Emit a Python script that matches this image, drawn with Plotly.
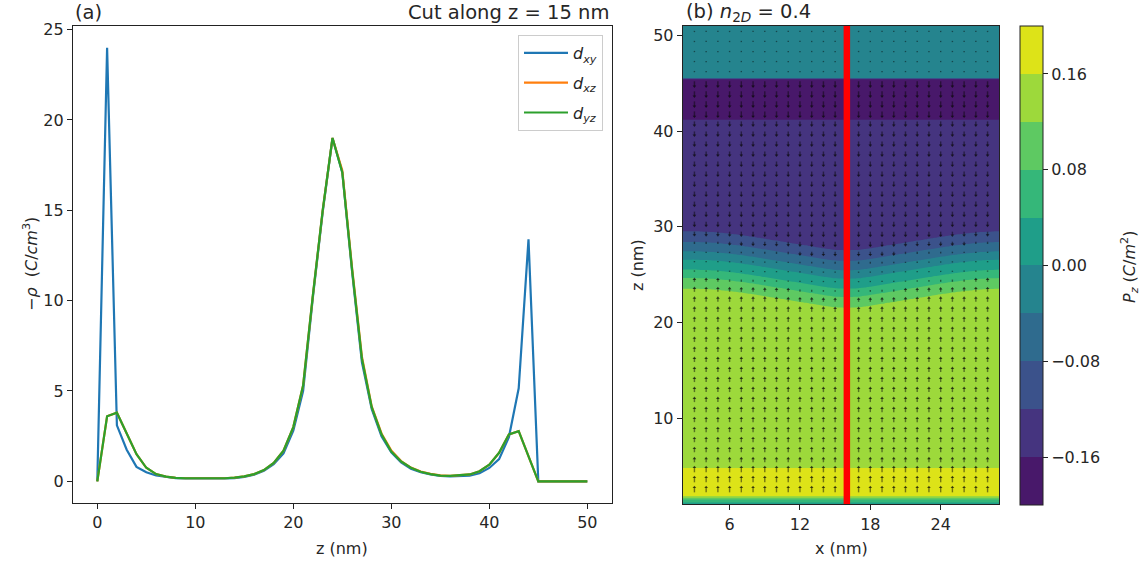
import numpy as np
import plotly.graph_objects as go

# ---------------- Panel (a): -rho along z (cut at z = 15 nm) ----------------
z_nm = list(range(0, 51))
rho_dxy = [0.0, 24.0, 3.1, 1.75, 0.8, 0.5, 0.32, 0.24, 0.18, 0.16,
           0.15, 0.15, 0.15, 0.16, 0.18, 0.24, 0.36, 0.58, 0.95, 1.55,
           2.8, 5.0, 10.2, 14.9, 19.0, 17.1, 11.6, 6.6, 4.0, 2.5,
           1.6, 1.05, 0.7, 0.5, 0.38, 0.3, 0.27, 0.28, 0.31, 0.45,
           0.74, 1.23, 2.45, 5.15, 13.4, 0.0, 0.0, 0.0, 0.0, 0.0, 0.0]
rho_dxz = [0.0, 3.6, 3.8, 2.6, 1.5, 0.75, 0.4, 0.26, 0.19, 0.17,
           0.16, 0.16, 0.16, 0.17, 0.2, 0.27, 0.4, 0.62, 1.02, 1.7,
           3.0, 5.3, 10.3, 15.0, 19.0, 17.2, 11.8, 6.9, 4.15, 2.65,
           1.7, 1.12, 0.76, 0.54, 0.41, 0.33, 0.3, 0.32, 0.38, 0.56,
           0.92, 1.58, 2.6, 2.78, 1.38, 0.0, 0.0, 0.0, 0.0, 0.0, 0.0]
rho_dyz = [0.0, 3.6, 3.8, 2.6, 1.5, 0.75, 0.4, 0.26, 0.19, 0.17,
           0.16, 0.16, 0.16, 0.17, 0.2, 0.27, 0.4, 0.62, 1.02, 1.7,
           3.0, 5.3, 10.3, 15.0, 19.0, 17.1, 11.7, 6.8, 4.1, 2.6,
           1.65, 1.1, 0.75, 0.53, 0.4, 0.32, 0.3, 0.32, 0.38, 0.56,
           0.92, 1.58, 2.6, 2.78, 1.38, 0.0, 0.0, 0.0, 0.0, 0.0, 0.0]
a_xticks = [0, 10, 20, 30, 40, 50]
a_yticks = [0, 5, 10, 15, 20, 25]

# ---------------- Panel (b): P_z map (n2D = 0.4) ----------------
# P_z profile along z read at the panel edges
pz_prof_z = [1.0, 1.45, 1.9, 2.0, 4.7, 4.9, 22.9, 23.54, 24.66, 25.53, 26.58,
             27.45, 28.43, 29.54, 30.3, 41.1, 41.3, 45.4, 45.6, 51.0]
pz_prof_v = [0.02, 0.07, 0.17, 0.18, 0.18, 0.14, 0.14, 0.12, 0.08, 0.04, 0.0,
             -0.04, -0.08, -0.12, -0.14, -0.14, -0.18, -0.18, -0.02, -0.02]
# downward shift of the domain-wall region versus x
dip_x = [2, 3, 4, 5, 6, 7, 8, 9, 10, 11, 12, 13, 14, 15, 16,
         17, 18, 19, 20, 21, 22, 23, 24, 25, 26, 27, 28, 29]
dip_nm = [0, 0, 0.05, 0.12, 0.25, 0.4, 0.58, 0.78, 0.98, 1.18, 1.38, 1.58, 1.78, 1.95, 2.0,
          1.95, 1.78, 1.58, 1.38, 1.18, 0.98, 0.78, 0.58, 0.4, 0.25, 0.12, 0.05, 0]
cut_x = 16
b_xticks = [6, 12, 18, 24]
b_yticks = [10, 20, 30, 40, 50]
cbar_ticks = [-0.16, -0.08, 0.0, 0.08, 0.16]
cbar_text = ["\u22120.16", "\u22120.08", "0.00", "0.08", "0.16"]
cbar_range = [-0.2, 0.2]
band_colors = ["#48186a", "#45347f", "#3b528b", "#2f6b8e", "#25848e",
               "#1f9e89", "#35b779", "#5ec962", "#9dd93b", "#dde318"]

FONT = "DejaVu Sans"
TXT = "#262626"
W, H = 1142, 562


def field(xv, zv):
    d = np.interp(xv, dip_x, dip_nm)
    zz = np.where((zv > 15) & (zv < 35), zv + d, zv)
    return np.interp(zz, pz_prof_z, pz_prof_v)


xc = np.arange(2.0, 29.001, 0.25)
zc = np.arange(1.0, 51.0001, 0.1)
XX, ZZ = np.meshgrid(xc, zc)
PZ = field(XX, ZZ)

# quiver grid
qx = np.arange(3, 29, 1.0)
qz = 2.25 + 1.048 * np.arange(47)
QX, QZ = np.meshgrid(qx, qz)
QP = field(QX, QZ)
px_per_nm = 9.55
alen = np.abs(QP) * 28.0           # arrow length in px
sgn = np.sign(QP)
qy_center = QZ + sgn * alen / 2 / px_per_nm
qy_tip = QZ + sgn * alen / px_per_nm
big = alen.ravel() > 2.5

fig = go.Figure()

# --- panel (a) lines ---
fig.add_trace(go.Scatter(x=z_nm, y=rho_dxy, mode="lines", name="<i>d<sub>xy</sub></i>",
                         line=dict(color="#1f77b4", width=2.2), legendgroup="a",
                         xaxis="x", yaxis="y"))
fig.add_trace(go.Scatter(x=z_nm, y=rho_dxz, mode="lines", name="<i>d<sub>xz</sub></i>",
                         line=dict(color="#ff7f0e", width=2.2), legendgroup="b",
                         xaxis="x", yaxis="y"))
fig.add_trace(go.Scatter(x=z_nm, y=rho_dyz, mode="lines", name="<i>d<sub>yz</sub></i>",
                         line=dict(color="#2ca02c", width=2.2), legendgroup="c",
                         xaxis="x", yaxis="y"))

# --- panel (b) contour ---
n = len(band_colors)
cscale = [[i / (n - 1), c] for i, c in enumerate(band_colors)]
fig.add_trace(go.Contour(
    x=xc, y=zc, z=PZ, xaxis="x2", yaxis="y2",
    colorscale=cscale, showlegend=False, hoverinfo="skip", showscale=False,
    contours=dict(start=-0.16, end=0.16, size=0.04, coloring="fill", showlines=False),
    line=dict(width=0),
))

# quiver arrows (shafts + small heads)
fig.add_trace(go.Scatter(
    x=QX.ravel(), y=qy_center.ravel(), mode="markers", xaxis="x2", yaxis="y2",
    showlegend=False, hoverinfo="skip",
    marker=dict(symbol="line-ns", size=np.maximum(alen.ravel() / 1.4, 0.9),
                line=dict(color="rgba(10,10,10,0.7)", width=1.4)),
))
fig.add_trace(go.Scatter(
    x=QX.ravel()[big], y=qy_tip.ravel()[big], mode="markers", xaxis="x2", yaxis="y2",
    showlegend=False, hoverinfo="skip",
    marker=dict(symbol=np.where(sgn.ravel()[big] > 0, "triangle-up", "triangle-down"),
                size=3.2, color="rgba(10,10,10,0.7)", line=dict(width=0)),
))

# red cut line
fig.add_trace(go.Scatter(x=[cut_x, cut_x], y=[1, 51], mode="lines", xaxis="x2", yaxis="y2",
                         showlegend=False, hoverinfo="skip",
                         line=dict(color="#ff0000", width=6.5)))

# discrete colour bar (10 equal bands from -0.2 to 0.2)
step_scale = []
for i, c in enumerate(band_colors):
    step_scale.append([i / n, c])
    step_scale.append([(i + 1) / n, c])
fig.add_trace(go.Scatter(
    x=[cut_x], y=[30], mode="markers", xaxis="x2", yaxis="y2", showlegend=False,
    hoverinfo="skip",
    marker=dict(size=1, opacity=0, color=[0.0], colorscale=step_scale,
                cmin=cbar_range[0], cmax=cbar_range[1], showscale=True,
                colorbar=dict(x=1020 / W, xanchor="left", xpad=0, ypad=0, thickness=23,
                              lenmode="fraction", len=(505 - 26) / H, y=1 - 26 / H,
                              yanchor="top", outlinecolor="#222222", outlinewidth=1,
                              tickmode="array", tickvals=cbar_ticks, ticktext=cbar_text,
                              ticks="outside", ticklen=5, tickcolor="#222222",
                              tickfont=dict(family=FONT, size=16, color=TXT))),
))

axis_common = dict(showgrid=False, zeroline=False, showline=True, mirror=True,
                   linecolor="#222222", linewidth=1, ticks="outside", ticklen=5,
                   tickwidth=1, tickcolor="#222222", automargin=False,
                   tickfont=dict(family=FONT, size=16, color=TXT))


def ann(text, x, y, size=16, xanchor="center", angle=0):
    return dict(text=text, x=x / W, y=1 - y / H, xref="paper", yref="paper",
                xanchor=xanchor, yanchor="middle", showarrow=False, textangle=angle,
                font=dict(family=FONT, size=size, color=TXT))


fig.update_layout(
    width=W, height=H,
    margin=dict(l=0, r=0, t=0, b=0, autoexpand=False),
    paper_bgcolor="white", plot_bgcolor="white",
    font=dict(family=FONT, size=16, color=TXT),
    xaxis=dict(domain=[72.8 / W, 611.8 / W], range=[-2.5, 52.5], tickvals=a_xticks,
               anchor="y", **axis_common),
    yaxis=dict(domain=[1 - 503 / H, 1 - 26 / H], range=[-1.2, 25.2], tickvals=a_yticks,
               anchor="x", **axis_common),
    xaxis2=dict(domain=[682.7 / W, 999.3 / W], range=[2, 29], tickvals=b_xticks,
                anchor="y2", **axis_common),
    yaxis2=dict(domain=[1 - 504.3 / H, 1 - 26 / H], range=[1, 51], tickvals=b_yticks,
                anchor="x2", **axis_common),
    legend=dict(x=603 / W, xanchor="right", y=1 - 35 / H, yanchor="top",
                bgcolor="rgba(255,255,255,0.8)", bordercolor="#cccccc", borderwidth=1,
                font=dict(family=FONT, size=16, color=TXT), tracegroupgap=6,
                itemwidth=44),
    annotations=[
        ann("(a)", 73, 13, size=19.5, xanchor="left"),
        ann("Cut along z = 15 nm", 611, 13, size=19.5, xanchor="right"),
        ann("(b) <i>n</i><sub>2<i>D</i></sub> = 0.4", 684, 13, size=19.5, xanchor="left"),
        ann("z (nm)", 342, 548),
        ann("\u2212<i>\u03c1</i>  (<i>C</i>/<i>cm</i><sup>3</sup>)", 30, 264, angle=-90),
        ann("x (nm)", 841, 548),
        ann("z (nm)", 637, 265, angle=-90),
        ann("<i>P<sub>z</sub></i> (<i>C</i>/<i>m</i><sup>2</sup>)", 1129, 267, angle=-90),
    ],
)

fig.write_html("out.html", config={"displayModeBar": False},
               post_script="document.body.style.margin='0px';document.body.style.padding='0px';")
